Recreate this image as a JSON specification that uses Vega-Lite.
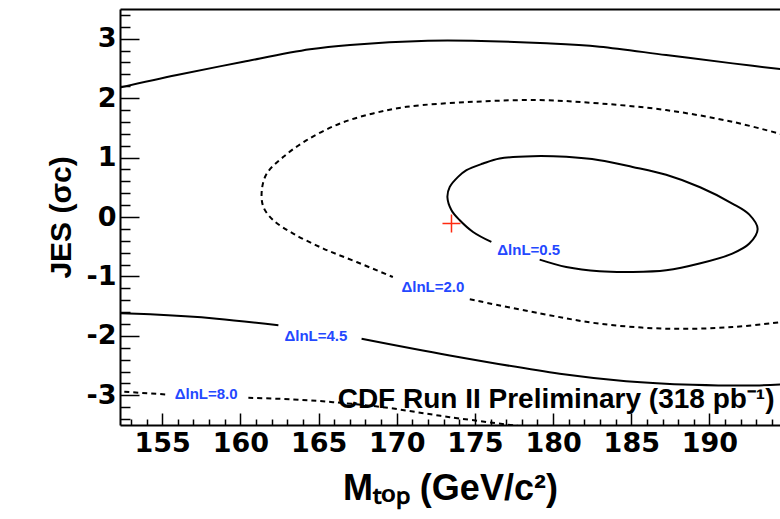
{
  "$schema": "https://vega.github.io/schema/vega-lite/v6.json",
  "width": 660,
  "height": 416,
  "autosize": {"type": "none"},
  "padding": {"left": 120, "top": 9, "right": 0, "bottom": 94},
  "background": "white",
  "config": {"view": {"stroke": null}},
  "resolve": {"axis": {"x": "independent", "y": "independent"}},
  "datasets": {
    "contours": [
      {"level": 0.5, "seg": "c05", "i": 1, "mtop": 176.05, "jes": -0.42},
      {"level": 0.5, "seg": "c05", "i": 2, "mtop": 174.88, "jes": -0.252},
      {"level": 0.5, "seg": "c05", "i": 3, "mtop": 174.03, "jes": -0.055},
      {"level": 0.5, "seg": "c05", "i": 4, "mtop": 173.5, "jes": 0.114},
      {"level": 0.5, "seg": "c05", "i": 5, "mtop": 173.24, "jes": 0.333},
      {"level": 0.5, "seg": "c05", "i": 6, "mtop": 173.39, "jes": 0.506},
      {"level": 0.5, "seg": "c05", "i": 7, "mtop": 173.92, "jes": 0.675},
      {"level": 0.5, "seg": "c05", "i": 8, "mtop": 174.46, "jes": 0.788},
      {"level": 0.5, "seg": "c05", "i": 9, "mtop": 175.52, "jes": 0.9},
      {"level": 0.5, "seg": "c05", "i": 10, "mtop": 176.58, "jes": 0.985},
      {"level": 0.5, "seg": "c05", "i": 11, "mtop": 178.69, "jes": 1.024},
      {"level": 0.5, "seg": "c05", "i": 12, "mtop": 180.84, "jes": 1.012},
      {"level": 0.5, "seg": "c05", "i": 13, "mtop": 182.97, "jes": 0.956},
      {"level": 0.5, "seg": "c05", "i": 14, "mtop": 185.08, "jes": 0.843},
      {"level": 0.5, "seg": "c05", "i": 15, "mtop": 187.23, "jes": 0.71},
      {"level": 0.5, "seg": "c05", "i": 16, "mtop": 189.4, "jes": 0.5},
      {"level": 0.5, "seg": "c05", "i": 17, "mtop": 191.46, "jes": 0.227},
      {"level": 0.5, "seg": "c05", "i": 18, "mtop": 192.55, "jes": 0.04},
      {"level": 0.5, "seg": "c05", "i": 19, "mtop": 193.08, "jes": -0.2},
      {"level": 0.5, "seg": "c05", "i": 20, "mtop": 192.55, "jes": -0.447},
      {"level": 0.5, "seg": "c05", "i": 21, "mtop": 191.46, "jes": -0.616},
      {"level": 0.5, "seg": "c05", "i": 22, "mtop": 189.36, "jes": -0.784},
      {"level": 0.5, "seg": "c05", "i": 23, "mtop": 187.23, "jes": -0.897},
      {"level": 0.5, "seg": "c05", "i": 24, "mtop": 185.08, "jes": -0.926},
      {"level": 0.5, "seg": "c05", "i": 25, "mtop": 182.97, "jes": -0.914},
      {"level": 0.5, "seg": "c05", "i": 26, "mtop": 180.84, "jes": -0.841},
      {"level": 0.5, "seg": "c05", "i": 27, "mtop": 179.14, "jes": -0.717},

      {"level": 2.0, "seg": "c20a", "i": 1, "mtop": 194.8, "jes": 1.38},
      {"level": 2.0, "seg": "c20a", "i": 2, "mtop": 191.48, "jes": 1.601},
      {"level": 2.0, "seg": "c20a", "i": 3, "mtop": 187.23, "jes": 1.799},
      {"level": 2.0, "seg": "c20a", "i": 4, "mtop": 182.97, "jes": 1.911},
      {"level": 2.0, "seg": "c20a", "i": 5, "mtop": 179.14, "jes": 1.967},
      {"level": 2.0, "seg": "c20a", "i": 6, "mtop": 174.88, "jes": 1.938},
      {"level": 2.0, "seg": "c20a", "i": 7, "mtop": 170.63, "jes": 1.854},
      {"level": 2.0, "seg": "c20a", "i": 8, "mtop": 168.49, "jes": 1.743},
      {"level": 2.0, "seg": "c20a", "i": 9, "mtop": 166.37, "jes": 1.574},
      {"level": 2.0, "seg": "c20a", "i": 10, "mtop": 164.24, "jes": 1.293},
      {"level": 2.0, "seg": "c20a", "i": 11, "mtop": 162.75, "jes": 1.012},
      {"level": 2.0, "seg": "c20a", "i": 12, "mtop": 161.69, "jes": 0.732},
      {"level": 2.0, "seg": "c20a", "i": 13, "mtop": 161.37, "jes": 0.451},
      {"level": 2.0, "seg": "c20a", "i": 14, "mtop": 161.47, "jes": 0.169},
      {"level": 2.0, "seg": "c20a", "i": 15, "mtop": 162.11, "jes": -0.055},
      {"level": 2.0, "seg": "c20a", "i": 16, "mtop": 163.38, "jes": -0.279},
      {"level": 2.0, "seg": "c20a", "i": 17, "mtop": 165.3, "jes": -0.531},
      {"level": 2.0, "seg": "c20a", "i": 18, "mtop": 167.43, "jes": -0.757},
      {"level": 2.0, "seg": "c20a", "i": 19, "mtop": 169.75, "jes": -1.01},
      {"level": 2.0, "seg": "c20b", "i": 1, "mtop": 174.67, "jes": -1.385},
      {"level": 2.0, "seg": "c20b", "i": 2, "mtop": 179.14, "jes": -1.621},
      {"level": 2.0, "seg": "c20b", "i": 3, "mtop": 182.97, "jes": -1.795},
      {"level": 2.0, "seg": "c20b", "i": 4, "mtop": 187.23, "jes": -1.879},
      {"level": 2.0, "seg": "c20b", "i": 5, "mtop": 191.48, "jes": -1.852},
      {"level": 2.0, "seg": "c20b", "i": 6, "mtop": 194.8, "jes": -1.76},

      {"level": 4.5, "seg": "c45a", "i": 1, "mtop": 152.0, "jes": 2.16},
      {"level": 4.5, "seg": "c45a", "i": 2, "mtop": 155.94, "jes": 2.388},
      {"level": 4.5, "seg": "c45a", "i": 3, "mtop": 160.19, "jes": 2.612},
      {"level": 4.5, "seg": "c45a", "i": 4, "mtop": 164.45, "jes": 2.821},
      {"level": 4.5, "seg": "c45a", "i": 5, "mtop": 167.01, "jes": 2.894},
      {"level": 4.5, "seg": "c45a", "i": 6, "mtop": 171.99, "jes": 2.966},
      {"level": 4.5, "seg": "c45a", "i": 7, "mtop": 174.83, "jes": 2.966},
      {"level": 4.5, "seg": "c45a", "i": 8, "mtop": 179.58, "jes": 2.922},
      {"level": 4.5, "seg": "c45a", "i": 9, "mtop": 182.97, "jes": 2.865},
      {"level": 4.5, "seg": "c45a", "i": 10, "mtop": 187.23, "jes": 2.725},
      {"level": 4.5, "seg": "c45a", "i": 11, "mtop": 191.48, "jes": 2.585},
      {"level": 4.5, "seg": "c45a", "i": 12, "mtop": 194.8, "jes": 2.48},
      {"level": 4.5, "seg": "c45b", "i": 1, "mtop": 152.0, "jes": -1.62},
      {"level": 4.5, "seg": "c45b", "i": 2, "mtop": 154.23, "jes": -1.638},
      {"level": 4.5, "seg": "c45b", "i": 3, "mtop": 158.49, "jes": -1.711},
      {"level": 4.5, "seg": "c45b", "i": 4, "mtop": 162.43, "jes": -1.823},
      {"level": 4.5, "seg": "c45c", "i": 1, "mtop": 167.75, "jes": -2.048},
      {"level": 4.5, "seg": "c45c", "i": 2, "mtop": 173.39, "jes": -2.329},
      {"level": 4.5, "seg": "c45c", "i": 3, "mtop": 180.42, "jes": -2.637},
      {"level": 4.5, "seg": "c45c", "i": 4, "mtop": 184.67, "jes": -2.762},
      {"level": 4.5, "seg": "c45c", "i": 5, "mtop": 188.93, "jes": -2.822},
      {"level": 4.5, "seg": "c45c", "i": 6, "mtop": 193.19, "jes": -2.834},
      {"level": 4.5, "seg": "c45c", "i": 7, "mtop": 194.8, "jes": -2.815},

      {"level": 8.0, "seg": "c80a", "i": 1, "mtop": 152.0, "jes": -2.93},
      {"level": 8.0, "seg": "c80a", "i": 2, "mtop": 155.19, "jes": -2.986},
      {"level": 8.0, "seg": "c80b", "i": 1, "mtop": 160.51, "jes": -3.041},
      {"level": 8.0, "seg": "c80b", "i": 2, "mtop": 163.81, "jes": -3.075},
      {"level": 8.0, "seg": "c80b", "i": 3, "mtop": 165.92, "jes": -3.116},
      {"level": 8.0, "seg": "c80b", "i": 4, "mtop": 169.11, "jes": -3.2},
      {"level": 8.0, "seg": "c80b", "i": 5, "mtop": 173.39, "jes": -3.368},
      {"level": 8.0, "seg": "c80b", "i": 6, "mtop": 178.2, "jes": -3.53}
    ],
    "levelLabels": [
      {"level": 0.5, "text": "ΔlnL=0.5", "mtop": 178.44, "jes": -0.56},
      {"level": 2.0, "text": "ΔlnL=2.0", "mtop": 172.31, "jes": -1.183},
      {"level": 4.5, "text": "ΔlnL=4.5", "mtop": 164.83, "jes": -2.009},
      {"level": 8.0, "text": "ΔlnL=8.0", "mtop": 157.81, "jes": -2.986}
    ],
    "bestFit": [{"mtop": 173.5, "jes": -0.11}],
    "notes": [{"note": "CDF Run II Preliminary (318 pb⁻¹)", "mtop": 166.22, "jes": -3.214}]
  },
  "layer": [
    {
      "data": {"name": "contours"},
      "transform": [{"filter": "datum.level == 0.5 || datum.level == 4.5"}],
      "mark": {"type": "line", "color": "black", "strokeWidth": 2, "interpolate": "catmull-rom", "clip": true},
      "encoding": {
        "x": {
          "field": "mtop", "type": "quantitative",
          "scale": {"domain": [152.3, 194.51], "nice": false, "zero": false},
          "axis": {
            "orient": "bottom",
            "values": [153, 154, 155, 156, 157, 158, 159, 160, 161, 162, 163, 164, 165, 166, 167, 168, 169, 170, 171, 172, 173, 174, 175, 176, 177, 178, 179, 180, 181, 182, 183, 184, 185, 186, 187, 188, 189, 190, 191, 192, 193, 194],
            "labelExpr": "datum.value % 5 === 0 ? datum.label : ''",
            "tickSize": {"condition": {"test": "datum.value % 5 === 0", "value": -12}, "value": -6},
            "tickColor": "black",
            "tickWidth": 1.5,
            "domainColor": "black",
            "domainWidth": 2,
            "grid": false,
            "labelFont": "DejaVu Sans",
            "labelFontWeight": "bold",
            "labelFontSize": 27,
            "labelColor": "black",
            "labelPadding": 17,
            "labelFlush": false,
            "labelOverlap": false,
            "title": "Mₜₒₚ (GeV/c²)",
            "titleFont": "Liberation Sans",
            "titleFontWeight": "bold",
            "titleFontSize": 36,
            "titleColor": "black",
            "titlePadding": 9
          }
        },
        "y": {
          "field": "jes", "type": "quantitative",
          "scale": {"domain": [-3.5, 3.5], "nice": false, "zero": false},
          "axis": {
            "orient": "left",
            "values": [-3.4, -3.2, -3, -2.8, -2.6, -2.4, -2.2, -2, -1.8, -1.6, -1.4, -1.2, -1, -0.8, -0.6, -0.4, -0.2, 0, 0.2, 0.4, 0.6, 0.8, 1, 1.2, 1.4, 1.6, 1.8, 2, 2.2, 2.4, 2.6, 2.8, 3, 3.2, 3.4],
            "labelExpr": "abs(datum.value - round(datum.value)) < 0.01 ? (datum.value < -0.5 ? '-' : '') + abs(round(datum.value)) : ''",
            "tickSize": {"condition": {"test": "abs(datum.value - round(datum.value)) < 0.01", "value": -19}, "value": -10},
            "tickColor": "black",
            "tickWidth": 1.5,
            "domainColor": "black",
            "domainWidth": 2,
            "grid": false,
            "labelFont": "DejaVu Sans",
            "labelFontWeight": "bold",
            "labelFontSize": 27,
            "labelColor": "black",
            "labelPadding": 23,
            "labelFlush": false,
            "labelOverlap": false,
            "title": "JES (σc)",
            "titleFont": "Liberation Sans",
            "titleFontWeight": "bold",
            "titleFontSize": 30,
            "titleColor": "black",
            "titlePadding": 10
          }
        },
        "detail": {"field": "seg"},
        "order": {"field": "i", "type": "quantitative"}
      }
    },
    {
      "data": {"name": "contours"},
      "transform": [{"filter": "datum.level == 2 || datum.level == 8"}],
      "mark": {"type": "line", "color": "black", "strokeWidth": 2, "strokeDash": [5, 4], "interpolate": "catmull-rom", "clip": true},
      "encoding": {
        "x": {"field": "mtop", "type": "quantitative", "scale": {"domain": [152.3, 194.51], "nice": false, "zero": false}, "axis": null},
        "y": {"field": "jes", "type": "quantitative", "scale": {"domain": [-3.5, 3.5], "nice": false, "zero": false}, "axis": null},
        "detail": {"field": "seg"},
        "order": {"field": "i", "type": "quantitative"}
      }
    },
    {
      "data": {"name": "levelLabels"},
      "mark": {"type": "text", "color": "#2448ff", "font": "Liberation Sans", "fontWeight": "bold", "fontSize": 15, "align": "center", "baseline": "middle"},
      "encoding": {
        "x": {
          "field": "mtop", "type": "quantitative",
          "scale": {"domain": [152.3, 194.51], "nice": false, "zero": false},
          "axis": {"orient": "top", "ticks": false, "labels": false, "grid": false, "domain": true, "domainColor": "black", "domainWidth": 2, "title": null}
        },
        "y": {"field": "jes", "type": "quantitative", "scale": {"domain": [-3.5, 3.5], "nice": false, "zero": false}, "axis": null},
        "text": {"field": "text"}
      }
    },
    {
      "data": {"name": "bestFit"},
      "mark": {"type": "point", "shape": "M-1,0L1,0M0,-1L0,1", "size": 324, "filled": false, "stroke": "#ff2a10", "strokeWidth": 1.5, "opacity": 1},
      "encoding": {
        "x": {"field": "mtop", "type": "quantitative", "scale": {"domain": [152.3, 194.51], "nice": false, "zero": false}, "axis": null},
        "y": {"field": "jes", "type": "quantitative", "scale": {"domain": [-3.5, 3.5], "nice": false, "zero": false}, "axis": null}
      }
    },
    {
      "data": {"name": "notes"},
      "mark": {"type": "text", "color": "black", "font": "Liberation Sans", "fontWeight": "bold", "fontSize": 28, "align": "left", "baseline": "alphabetic"},
      "encoding": {
        "x": {"field": "mtop", "type": "quantitative", "scale": {"domain": [152.3, 194.51], "nice": false, "zero": false}, "axis": null},
        "y": {"field": "jes", "type": "quantitative", "scale": {"domain": [-3.5, 3.5], "nice": false, "zero": false}, "axis": null},
        "text": {"field": "note"}
      }
    }
  ]
}
